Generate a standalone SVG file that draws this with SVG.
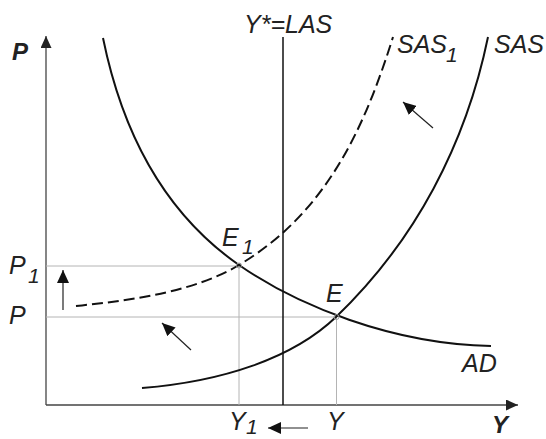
<svg xmlns="http://www.w3.org/2000/svg" width="546" height="439" viewBox="0 0 546 439">
<defs>
<marker id="ah" markerUnits="userSpaceOnUse" markerWidth="13" markerHeight="12" refX="13" refY="6" orient="auto">
<path d="M0,0 L13,6 L0,12 z" fill="#111"/>
</marker>
<marker id="axh" markerUnits="userSpaceOnUse" markerWidth="12" markerHeight="11" refX="12" refY="5.5" orient="auto">
<path d="M0,0 L12,5.5 L0,11 z" fill="#222"/>
</marker>
</defs>
<style>
.t{font-family:"Liberation Sans",Arial,sans-serif;font-style:italic;font-size:25px;fill:#222}
.s{font-family:"Liberation Sans",Arial,sans-serif;font-style:italic;font-size:21px;fill:#222}
.b{font-family:"Liberation Sans",Arial,sans-serif;font-style:italic;font-weight:bold;font-size:24px;fill:#222}
.ax{stroke:#444;stroke-width:1.3;fill:none}
.grid{stroke:#b4b4b4;stroke-width:1;fill:none}
.curve{stroke:#111;stroke-width:2;fill:none}
.arr{stroke:#222;stroke-width:1.2;fill:none;marker-end:url(#ah)}
</style>
<rect width="546" height="439" fill="#fff"/>
<g id="axes">
<line class="ax" x1="46" y1="405" x2="46" y2="36" marker-end="url(#axh)"/>
<line class="ax" x1="46" y1="405" x2="518" y2="405" marker-end="url(#axh)"/>
<text class="b" x="12" y="60">P</text>
<text class="b" x="492" y="433">Y</text>
</g>
<g id="grid">
<line class="grid" x1="46" y1="266" x2="239" y2="266"/>
<line class="grid" x1="46" y1="317" x2="336.5" y2="317"/>
<line class="grid" x1="239" y1="266" x2="239" y2="405"/>
<line class="grid" x1="336.5" y1="317" x2="336.5" y2="405"/>
</g>
<g id="LAS">
<line x1="283" y1="37" x2="283" y2="405" stroke="#111" stroke-width="1.5"/>
<text class="t" x="244" y="33">Y*=LAS</text>
</g>
<g id="AD">
<path class="curve" d="M103,38 C123,136 165.2,213.7 239,265 C296.4,304.9 391,344 491,346"/>
<text class="t" x="462" y="372">AD</text>
</g>
<g id="SAS">
<path class="curve" d="M142,388 C222,381.6 292.8,358.4 336,317 C415.2,241.1 466,144 488,37"/>
<text class="t" x="494" y="53">SAS</text>
</g>
<g id="SAS1">
<path class="curve" stroke-dasharray="11 5" d="M76,306 C136,300 196.2,290.7 239,265 C324.7,213.6 363,132.6 393,37"/>
<text class="t" x="397" y="53">SAS</text>
<text class="s" x="446" y="62">1</text>
</g>
<g id="E1">
<circle cx="239" cy="265.5" r="2.5" fill="none" stroke="#999" stroke-width="1"/>
<text class="t" x="222" y="246">E</text>
<text class="s" x="242" y="254">1</text>
</g>
<g id="E">
<circle cx="336.5" cy="317" r="2.5" fill="none" stroke="#999" stroke-width="1"/>
<text class="t" x="326" y="302">E</text>
</g>
<g id="labels">
<text class="t" x="9" y="274">P</text>
<text class="s" x="28" y="283">1</text>
<text class="t" x="9" y="324">P</text>
<text class="t" x="229" y="430">Y</text>
<text class="s" x="246" y="434">1</text>
<text class="t" x="327" y="430">Y</text>
</g>
<g id="connectors">
<line class="arr" x1="433" y1="128" x2="403" y2="102"/>
<line class="arr" x1="191" y1="350" x2="162" y2="323"/>
<line class="arr" x1="63" y1="310" x2="63" y2="270"/>
<line class="arr" x1="308" y1="428" x2="268" y2="428"/>
</g>
</svg>
